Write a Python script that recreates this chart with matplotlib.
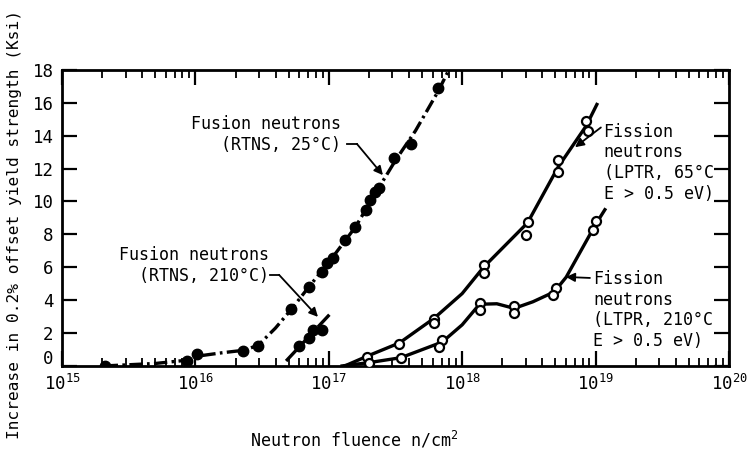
import numpy as np
import matplotlib
matplotlib.use('Agg')
import matplotlib.pyplot as plt
from matplotlib.ticker import LogLocator, NullFormatter

plt.rcParams['font.family'] = ['DejaVu Sans Mono']
plt.rcParams['mathtext.fontset'] = 'custom'
plt.rcParams['mathtext.rm'] = 'DejaVu Sans Mono'
plt.rcParams['mathtext.it'] = 'DejaVu Sans Mono'

# log10(fluence) and increase in yield strength (ksi)
# fusion neutrons, RTNS 25C (filled circles)
fus25_logx = [15.32, 15.94, 16.01, 16.36, 16.47, 16.72, 16.85, 16.95, 16.99, 17.03,
              17.12, 17.20, 17.28, 17.31, 17.35, 17.38, 17.49, 17.62, 17.82]
fus25_y = [0.0, 0.3, 0.7, 0.9, 1.2, 3.47, 4.8, 5.7, 6.27, 6.57,
           7.66, 8.45, 9.5, 10.1, 10.6, 10.8, 12.65, 13.5, 16.9]
fus25_curve_logx = [15.32, 15.7, 15.94, 16.02, 16.2, 16.36, 16.47, 16.6, 16.72, 16.85,
                    17.0, 17.2, 17.35, 17.5, 17.65, 17.82, 17.90]
fus25_curve_y = [0.0, 0.15, 0.35, 0.6, 0.8, 0.95, 1.25, 2.3, 3.45, 4.8,
                 6.3, 8.45, 10.5, 12.5, 14.3, 16.7, 18.0]

# fusion neutrons, RTNS 210C (filled circles)
fus210_logx = [16.78, 16.85, 16.88, 16.95]
fus210_y = [1.2, 1.7, 2.2, 2.2]
fus210_curve_logx = [16.68, 17.02]
fus210_curve_y = [0.3, 3.25]

# fission neutrons, LPTR 65C (open circles)
fis65_logx = [17.29, 17.53, 17.79, 17.79, 18.16, 18.16, 18.48, 18.49,
              18.72, 18.72, 18.93, 18.94]
fis65_y = [0.57, 1.34, 2.86, 2.6, 6.14, 5.66, 7.94, 8.76,
           12.5, 11.8, 14.9, 14.3]
fis65_curve_logx = [17.12, 17.29, 17.53, 17.79, 18.0, 18.16, 18.49, 18.72, 18.93, 19.01]
fis65_curve_y = [0.0, 0.6, 1.4, 2.9, 4.4, 6.0, 8.7, 12.1, 14.6, 15.9]

# fission neutrons, LTPR 210C (open circles)
fis210_logx = [17.30, 17.54, 17.85, 17.83, 18.13, 18.13, 18.39, 18.39,
               18.70, 18.68, 19.00, 18.98]
fis210_y = [0.2, 0.47, 1.56, 1.16, 3.83, 3.39, 3.67, 3.2,
            4.71, 4.29, 8.82, 8.25]
fis210_curve_logx = [17.1, 17.30, 17.54, 17.85, 18.0, 18.13, 18.26, 18.39, 18.53,
                     18.69, 18.78, 19.0, 19.07]
fis210_curve_y = [0.0, 0.2, 0.5, 1.45, 2.5, 3.75, 3.78, 3.5, 3.9,
                  4.5, 5.4, 8.6, 9.5]

yticks = [0, 2, 4, 6, 8, 10, 12, 14, 16, 18]


def X(v):
    return 10 ** np.asarray(v, dtype=float)


fig = plt.figure(figsize=(7.51, 4.54), dpi=100)
ax = fig.add_axes([0.0826, 0.194, 0.888, 0.652])

lw = 2.4
ax.plot(X(fus25_curve_logx), fus25_curve_y, color='k', lw=lw,
        dashes=(4, 1.3, 0.8, 1.3), zorder=2)
ax.plot(X(fus210_curve_logx), fus210_curve_y, color='k', lw=lw,
        dashes=(5, 2), zorder=2)
ax.plot(X(fis65_curve_logx), fis65_curve_y, color='k', lw=lw, zorder=2)
ax.plot(X(fis210_curve_logx), fis210_curve_y, color='k', lw=lw, zorder=2)

ax.plot(X(fus25_logx), fus25_y, 'o', color='k', ms=7.5, zorder=3)
ax.plot(X(fus210_logx), fus210_y, 'o', color='k', ms=7.5, zorder=3)
ax.plot(X(fis65_logx), fis65_y, 'o', mfc='white', mec='k', mew=1.6, ms=6.5, zorder=3)
ax.plot(X(fis210_logx), fis210_y, 'o', mfc='white', mec='k', mew=1.6, ms=6.5, zorder=3)

ax.set_xscale('log')
ax.set_xlim(1e15, 1e20)
ax.set_ylim(0, 18)
# "0" is drawn separately, a little above the axis like the original
ax.set_yticks(yticks, [''] + [str(v) for v in yticks[1:]])
ax.xaxis.set_major_locator(LogLocator(base=10, numticks=10))
ax.xaxis.set_minor_locator(LogLocator(base=10, subs=np.arange(2, 10), numticks=20))
ax.xaxis.set_minor_formatter(NullFormatter())
ax.tick_params(axis='both', which='major', direction='in', length=11, width=1.6,
               top=True, right=True, labelsize=12.5)
ax.tick_params(axis='x', which='minor', direction='in', length=6, width=1.3,
               top=True, bottom=True)
ax.tick_params(axis='y', pad=6)
ax.tick_params(axis='x', pad=6)
for s in ax.spines.values():
    s.set_linewidth(2)

ax.annotate(str(yticks[0]), xy=(0, 0), xycoords='axes fraction', xytext=(-6, 5),
            textcoords='offset points', ha='right', va='center', fontsize=12.5)

fs = 12
fig.text(0.019, 0.505, 'Increase in 0.2% offset yield strength (Ksi)',
         rotation=90, ha='center', va='center', fontsize=11.6)
fig.text(0.471, 0.031, r'Neutron fluence n/cm$^2$', ha='center', va='center', fontsize=fs)

arrow = dict(arrowstyle='-|>', color='k', lw=1.3, mutation_scale=13,
             shrinkA=0, shrinkB=0)

ax.text(X(17.09), 14.05, 'Fusion neutrons\n(RTNS, 25°C)', ha='right', va='center',
        multialignment='right', fontsize=fs)
ax.plot(X([17.136, 17.211]), [13.5, 13.5], color='k', lw=1.3)
ax.annotate('', xy=(X(17.406), 11.6), xytext=(X(17.211), 13.5), arrowprops=arrow)

ax.text(X(16.55), 6.1, 'Fusion neutrons\n(RTNS, 210°C)', ha='right', va='center',
        multialignment='right', fontsize=fs)
ax.plot(X([16.559, 16.627]), [5.54, 5.54], color='k', lw=1.3)
ax.annotate('', xy=(X(16.919), 2.98), xytext=(X(16.627), 5.54), arrowprops=arrow)

ax.text(X(19.06), 12.35, 'Fission\nneutrons\n(LPTR, 65°C\nE > 0.5 eV)', ha='left',
        va='center', fontsize=fs)
ax.annotate('', xy=(X(18.846), 13.3), xytext=(X(19.04), 14.5), arrowprops=arrow)

ax.text(X(18.98), 3.4, 'Fission\nneutrons\n(LTPR, 210°C\nE > 0.5 eV)', ha='left',
        va='center', fontsize=fs)
ax.annotate('', xy=(X(18.778), 5.41), xytext=(X(18.958), 5.35), arrowprops=arrow)

fig.savefig('out.png', dpi=100)
